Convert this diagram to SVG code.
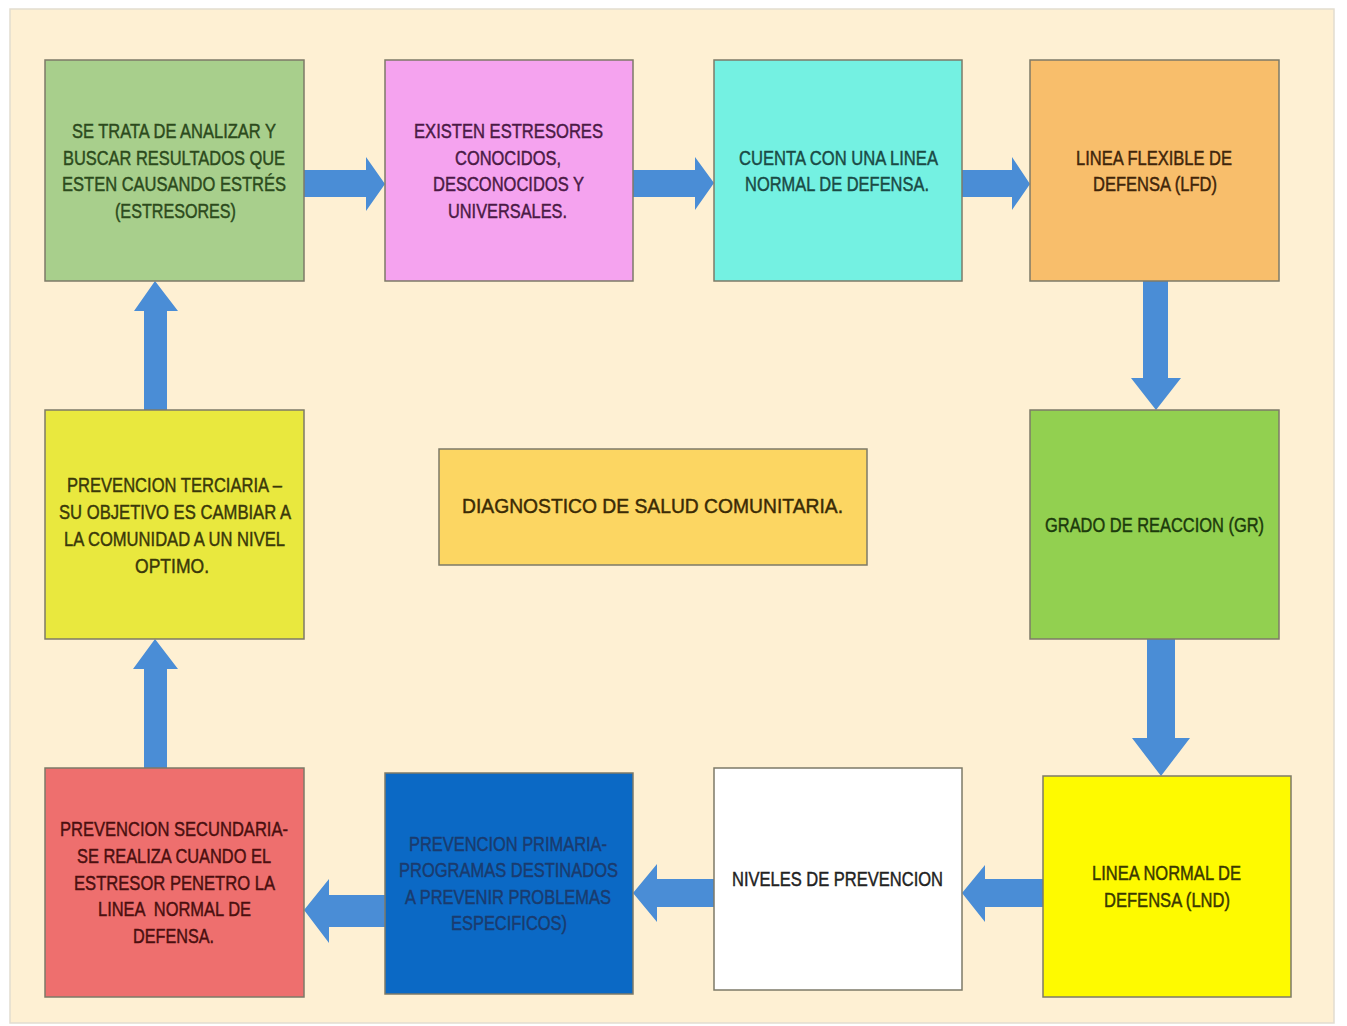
<svg xmlns="http://www.w3.org/2000/svg" width="1347" height="1026" viewBox="0 0 1347 1026">
<style>
  .box { stroke: #7d7a68; stroke-width: 1.5; }
  .t { font-family: "Liberation Sans", Arial, sans-serif; font-size: 21px; stroke-width: 0.45px; }
  .arr { fill: #4a8dd6; }
</style>
<rect x="0" y="0" width="1347" height="1026" fill="#ffffff"/>
<rect x="10" y="9" width="1324" height="1014" fill="#fef0d3" stroke="#e2ddd0" stroke-width="1.5"/>

<g id="connectors">
  <polygon class="arr" points="304,170 366,170 366,157 385,184 366,211 366,197 304,197"/>
  <polygon class="arr" points="633,170 695,170 695,157 714,183 695,210 695,197 633,197"/>
  <polygon class="arr" points="962,170 1012,170 1012,157 1030,184 1012,210 1012,197 962,197"/>
  <polygon class="arr" points="1143,281 1168,281 1168,378 1181,378 1156,410 1131,378 1143,378"/>
  <polygon class="arr" points="1147,639 1175,639 1175,738 1190,738 1161,776 1132,738 1147,738"/>
  <polygon class="arr" points="1043,879 985,879 985,865 962,893 985,922 985,907 1043,907"/>
  <polygon class="arr" points="714,879 657,879 657,864 633,893 657,922 657,907 714,907"/>
  <polygon class="arr" points="385,895 329,895 329,879 304,910 329,943 329,927 385,927"/>
  <polygon class="arr" points="144,768 144,669 133,669 155,639 178,669 167,669 167,768"/>
  <polygon class="arr" points="144,410 144,311 134,311 155,281 178,311 167,311 167,410"/>
</g>

<g id="n1">
  <rect class="box" x="45" y="60" width="259" height="221" fill="#a8cf8c"/>
  <g class="t" fill="#2c4a1c" stroke="#2c4a1c">
    <text x="72" y="138" textLength="204" lengthAdjust="spacingAndGlyphs">SE TRATA DE ANALIZAR Y</text>
    <text x="63" y="165" textLength="222" lengthAdjust="spacingAndGlyphs">BUSCAR RESULTADOS QUE</text>
    <text x="62" y="191" textLength="224" lengthAdjust="spacingAndGlyphs">ESTEN CAUSANDO ESTRÉS</text>
    <text x="115" y="218" textLength="121" lengthAdjust="spacingAndGlyphs">(ESTRESORES)</text>
  </g>
</g>

<g id="n2">
  <rect class="box" x="385" y="60" width="248" height="221" fill="#f5a3ef"/>
  <g class="t" fill="#4a1a45" stroke="#4a1a45">
    <text x="414" y="138" textLength="189" lengthAdjust="spacingAndGlyphs">EXISTEN ESTRESORES</text>
    <text x="455" y="165" textLength="106" lengthAdjust="spacingAndGlyphs">CONOCIDOS,</text>
    <text x="433" y="191" textLength="151" lengthAdjust="spacingAndGlyphs">DESCONOCIDOS Y</text>
    <text x="448" y="218" textLength="119" lengthAdjust="spacingAndGlyphs">UNIVERSALES.</text>
  </g>
</g>

<g id="n3">
  <rect class="box" x="714" y="60" width="248" height="221" fill="#74f1e2"/>
  <g class="t" fill="#1a4a45" stroke="#1a4a45">
    <text x="739" y="165" textLength="199" lengthAdjust="spacingAndGlyphs">CUENTA CON UNA LINEA</text>
    <text x="745" y="191" textLength="184" lengthAdjust="spacingAndGlyphs">NORMAL DE DEFENSA.</text>
  </g>
</g>

<g id="n4">
  <rect class="box" x="1030" y="60" width="249" height="221" fill="#f8be6b"/>
  <g class="t" fill="#3f250a" stroke="#3f250a">
    <text x="1076" y="165" textLength="156" lengthAdjust="spacingAndGlyphs">LINEA FLEXIBLE DE</text>
    <text x="1093" y="191" textLength="124" lengthAdjust="spacingAndGlyphs">DEFENSA (LFD)</text>
  </g>
</g>

<g id="n5">
  <rect class="box" x="1030" y="410" width="249" height="229" fill="#92d050"/>
  <g class="t" fill="#1c3a0c" stroke="#1c3a0c">
    <text x="1045" y="532" textLength="219" lengthAdjust="spacingAndGlyphs">GRADO DE REACCION (GR)</text>
  </g>
</g>

<g id="n6">
  <rect class="box" x="1043" y="776" width="248" height="221" fill="#fefa00"/>
  <g class="t" fill="#3a3800" stroke="#3a3800">
    <text x="1092" y="880" textLength="149" lengthAdjust="spacingAndGlyphs">LINEA NORMAL DE</text>
    <text x="1104" y="907" textLength="126" lengthAdjust="spacingAndGlyphs">DEFENSA (LND)</text>
  </g>
</g>

<g id="n7">
  <rect class="box" x="714" y="768" width="248" height="222" fill="#ffffff"/>
  <g class="t" fill="#222222" stroke="#222222">
    <text x="732" y="886" textLength="211" lengthAdjust="spacingAndGlyphs">NIVELES DE PREVENCION</text>
  </g>
</g>

<g id="n8">
  <rect class="box" x="385" y="773" width="248" height="221" fill="#0b69c5"/>
  <g class="t" fill="#1a3b6e" stroke="#1a3b6e">
    <text x="409" y="851" textLength="198" lengthAdjust="spacingAndGlyphs">PREVENCION PRIMARIA-</text>
    <text x="399" y="877" textLength="219" lengthAdjust="spacingAndGlyphs">PROGRAMAS DESTINADOS</text>
    <text x="405" y="904" textLength="206" lengthAdjust="spacingAndGlyphs">A PREVENIR PROBLEMAS</text>
    <text x="451" y="930" textLength="116" lengthAdjust="spacingAndGlyphs">ESPECIFICOS)</text>
  </g>
</g>

<g id="n9">
  <rect class="box" x="45" y="768" width="259" height="229" fill="#ee6f6e"/>
  <g class="t" fill="#4a0f0f" stroke="#4a0f0f">
    <text x="60" y="836" textLength="228" lengthAdjust="spacingAndGlyphs">PREVENCION SECUNDARIA-</text>
    <text x="77" y="863" textLength="194" lengthAdjust="spacingAndGlyphs">SE REALIZA CUANDO EL</text>
    <text x="74" y="890" textLength="201" lengthAdjust="spacingAndGlyphs">ESTRESOR PENETRO LA</text>
    <text x="98" y="916" textLength="153" lengthAdjust="spacingAndGlyphs" xml:space="preserve">LINEA  NORMAL DE</text>
    <text x="133" y="943" textLength="81" lengthAdjust="spacingAndGlyphs">DEFENSA.</text>
  </g>
</g>

<g id="n10">
  <rect class="box" x="45" y="410" width="259" height="229" fill="#e9e83e"/>
  <g class="t" fill="#3a380a" stroke="#3a380a">
    <text x="67" y="492" textLength="215" lengthAdjust="spacingAndGlyphs">PREVENCION TERCIARIA –</text>
    <text x="59" y="519" textLength="232" lengthAdjust="spacingAndGlyphs">SU OBJETIVO ES CAMBIAR A</text>
    <text x="64" y="546" textLength="221" lengthAdjust="spacingAndGlyphs">LA COMUNIDAD A UN NIVEL</text>
    <text x="135" y="573" textLength="74" lengthAdjust="spacingAndGlyphs">OPTIMO.</text>
  </g>
</g>

<g id="center">
  <rect class="box" x="439" y="449" width="428" height="116" fill="#fcd662"/>
  <g class="t" fill="#3a2a05" stroke="#3a2a05">
    <text x="462" y="513" textLength="381" lengthAdjust="spacingAndGlyphs">DIAGNOSTICO DE SALUD COMUNITARIA.</text>
  </g>
</g>
</svg>
